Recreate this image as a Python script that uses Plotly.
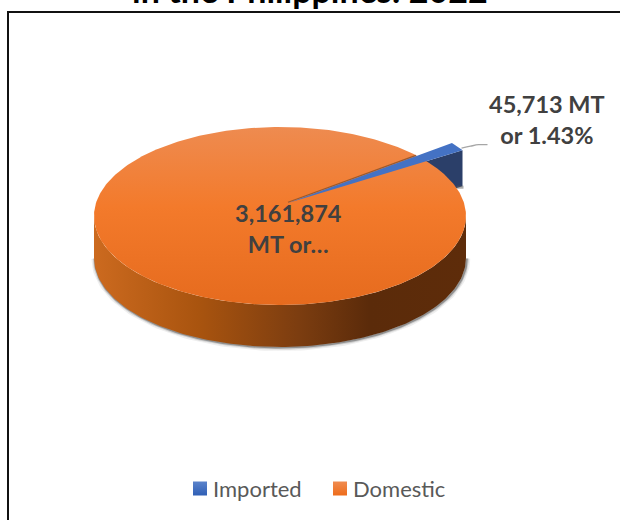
import numpy as np
import plotly.graph_objects as go

categories = ["Imported", "Domestic"]
volumes_mt = [45713, 3161874]
shares_pct = [1.43, 98.57]
title_text = "in the Philippines: 2022"
label_texts = ["45,713 MT<br>or 1.43%", "3,161,874<br>MT or…"]

FONT = "Lato"
W, H = 620, 520
CX, CY, A, B, DEPTH = 280, 216, 186, 89, 42
APEX = (288, 203)
WEDGE_R = 1.11
START_DEG = 32.3
WEDGE_DEPTH = 36

spans = [v / sum(volumes_mt) * 360 for v in volumes_mt]


def ell(theta, cx=CX, cy=CY, r=1.0):
    t = np.radians(theta)
    return cx + A * r * np.cos(t), cy - B * r * np.sin(t)


fig = go.Figure()


def poly(x, y, **kw):
    fig.add_trace(go.Scatter(x=list(x), y=list(y), mode="lines", fill="toself",
                             showlegend=False, hoverinfo="skip", **kw))


# imported wedge side
t0, t1 = START_DEG, START_DEG + spans[0]
bx, by = ell(t0, APEX[0], APEX[1], WEDGE_R)
ax_, ay_ = ell(t1, APEX[0], APEX[1], WEDGE_R)
poly([bx, bx, APEX[0], APEX[0]], [by, by + WEDGE_DEPTH, APEX[1] + WEDGE_DEPTH, APEX[1]],
     line=dict(width=0), fillcolor="#2B3F69")
fig.add_trace(go.Scatter(x=[bx - 6, bx + 1], y=[by + WEDGE_DEPTH + 1, by + WEDGE_DEPTH + 1], mode="lines",
                         line=dict(color="rgba(90,90,90,0.5)", width=3), showlegend=False, hoverinfo="skip"))

# domestic pie side with soft shadow
th = np.linspace(180, 360, 160)
lx, ly = ell(th)
bx2, by2 = ell(th, cy=CY + DEPTH)
for w, col in [(7, "rgba(90,90,90,0.10)"), (4, "rgba(90,90,90,0.22)"), (2, "rgba(70,70,70,0.45)")]:
    fig.add_trace(go.Scatter(x=bx2 + 0.8, y=by2 + 0.5, mode="lines", line=dict(color=col, width=w),
                             showlegend=False, hoverinfo="skip"))
poly(np.r_[lx, bx2[::-1]], np.r_[ly, by2[::-1]], line=dict(width=0),
     fillgradient=dict(type="horizontal",
                       colorscale=[[0, "#CC6A1F"], [0.28, "#A9540F"], [0.55, "#7C3D10"],
                                   [0.74, "#5B2B0A"], [1, "#5E2C0A"]]))

# domestic top face
th = np.linspace(t1, t1 + spans[1], 400)
tx, ty = ell(th)
poly(tx, ty, line=dict(width=0),
     fillgradient=dict(type="vertical",
                       colorscale=[[0, "#E66B1E"], [0.55, "#F37A2B"], [1, "#EE8B50"]]))

# imported wedge top
fig.add_trace(go.Scatter(x=[APEX[0], APEX[0] + (ax_ - APEX[0]) * 0.78], y=[APEX[1] - 0.8, APEX[1] + (ay_ - APEX[1]) * 0.78 - 0.8],
                         mode="lines", line=dict(color="#9A5A2E", width=1.2), showlegend=False, hoverinfo="skip"))
th = np.linspace(t0, t1, 12)
wx, wy = ell(th, APEX[0], APEX[1], WEDGE_R)
poly(np.r_[APEX[0], wx], np.r_[APEX[1], wy], line=dict(width=0), fillcolor="#4472C4")

# leader line
fig.add_trace(go.Scatter(x=[bx - 1, bx + 8, bx + 16, bx + 25], y=[by - 2, by - 4, by - 5.5, by - 5.5], mode="lines",
                         line=dict(color="#A6A6A6", width=1.3, shape="spline"), showlegend=False, hoverinfo="skip"))

# legend entries drawn by hand for exact swatch/text spacing
legend_x = [193, 333]
legend_y = 488.5
swatch_colors = [("#5B83CB", "#2F5FB5"), ("#F08C50", "#EE6C1A")]
for name, lx0, (c_top, c_bot) in zip(categories, legend_x, swatch_colors):
    poly([lx0, lx0 + 14, lx0 + 14, lx0, lx0], [legend_y - 7, legend_y - 7, legend_y + 7, legend_y + 7, legend_y - 7],
         line=dict(width=0), fillgradient=dict(type="vertical", colorscale=[[0, c_bot], [1, c_top]]))
    fig.add_annotation(x=lx0 + 18, y=legend_y, text=name, xref="x", yref="y", xanchor="left", showarrow=False,
                       font=dict(family=FONT, size=22, color="#595959"))

anns = [
    dict(x=547, y=119, text=label_texts[0]),
    dict(x=288, y=228, text=label_texts[1]),
]
for a in anns:
    fig.add_annotation(**a, xref="x", yref="y", showarrow=False,
                       font=dict(family=FONT, size=23.5, color="#404040", weight=700))
fig.add_annotation(x=310, y=12, text=title_text, xref="x", yref="y", yanchor="bottom", showarrow=False,
                   font=dict(family=FONT, size=34, color="#000000", weight=700))

fig.add_shape(type="rect", xref="x", yref="y", x0=8, y0=12, x1=700, y1=600,
              line=dict(color="#111111", width=2), fillcolor="rgba(0,0,0,0)", layer="below")

fig.update_layout(
    width=W, height=H, margin=dict(l=0, r=0, t=0, b=0), paper_bgcolor="#FFFFFF", plot_bgcolor="#FFFFFF",
    xaxis=dict(range=[0, W], visible=False, fixedrange=True),
    yaxis=dict(range=[H, 0], visible=False, fixedrange=True),
    showlegend=False,
)
fig.write_html("out.html", config=dict(displayModeBar=False),
               post_script="document.body.style.margin='0';document.documentElement.style.overflow='hidden';")
